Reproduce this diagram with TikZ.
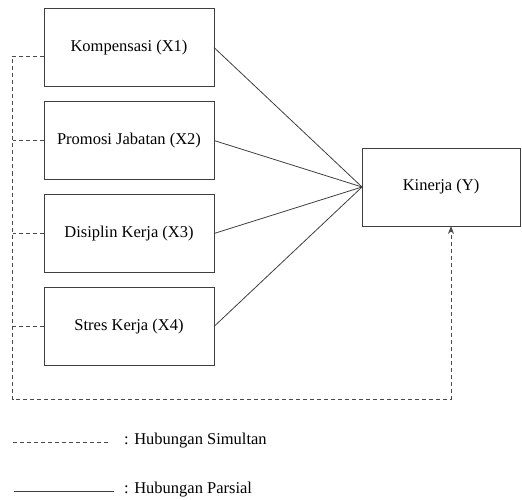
\documentclass[tikz,border=0pt]{standalone}
\usepackage{fontspec}
\setmainfont{Liberation Serif}
\usetikzlibrary{arrows.meta,positioning}
\definecolor{boxline}{HTML}{3F3F3F}
\definecolor{dashline}{HTML}{4A4A4A}
\tikzset{
    varbox/.style={draw=boxline,fill=white,line width=0.9pt,
      minimum width=170pt,minimum height=78pt,inner sep=2pt,outer sep=0pt,
      align=center},
    partial/.style={draw=boxline,line width=0.8pt},
    simultan/.style={draw=dashline,line width=0.8pt,dash pattern=on 4pt off 3pt}
}

\begin{document}
\begin{tikzpicture}[x=1pt,y=-1pt,font=\fontsize{16.5}{19}\selectfont,
  >={Stealth[length=8pt,width=6pt]}]
  \useasboundingbox (0,0) rectangle (522,500);
  % variabel bebas
  \node[varbox] (x1) at (129,47.5) {Kompensasi (X1)};
  \node[varbox,below=15pt of x1] (x2) {Promosi Jabatan (X2)};
  \node[varbox,below=15pt of x2] (x3) {Disiplin Kerja (X3)};
  \node[varbox,below=15pt of x3] (x4) {Stres Kerja (X4)};
  % variabel terikat
  \node[varbox,minimum width=158pt] (y) at (441,187) {Kinerja (Y)};
  % parsial
  \foreach \v in {x1,x2,x3,x4}
    \draw[partial] (\v.east) -- (y.west);
  % simultan
  \coordinate (top) at (12.5,56);
  \coordinate (base) at (451,399);
  \draw[simultan,->] (x1.west |- top) -- (top) |- (base) -- (base |- y.south);
  \foreach \v in {x2,x3,x4}
    \draw[simultan] (\v.west) -- (top |- \v.west);
  % keterangan
  \coordinate (simA) at (13,442);
  \coordinate (simB) at (110,442);
  \draw[simultan] (simA) -- (simB);
  \node[anchor=west,inner sep=0pt] (simtext) at (124,441) {: Hubungan Simultan};
  \coordinate (parA) at (14,491);
  \coordinate (parB) at (114,491);
  \draw[partial] (parA) -- (parB);
  \node[anchor=west,inner sep=0pt] (partext) at (124,490) {: Hubungan Parsial};
\end{tikzpicture}
\end{document}
